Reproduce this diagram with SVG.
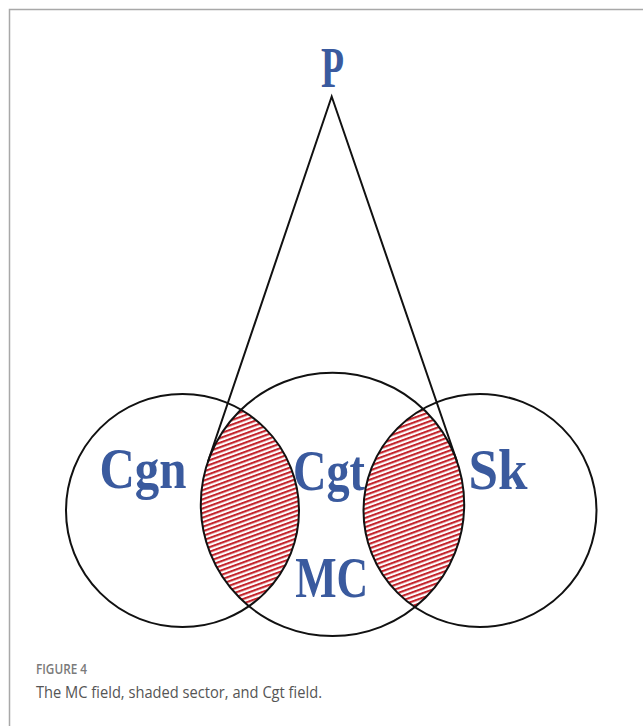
<svg xmlns="http://www.w3.org/2000/svg" width="643" height="726" viewBox="0 0 643 726">
  <style>
    .circ { fill: none; stroke: #111; stroke-width: 2; }
    .lbl { font-family: "Liberation Serif", "Times New Roman", serif; font-weight: bold; font-size: 56px; fill: #3a5a9e; text-anchor: middle; }
    .conn { stroke: #111; stroke-width: 2; fill: none; stroke-linecap: round; }
  </style>
  <defs>
    <pattern id="hatch" patternUnits="userSpaceOnUse" width="8" height="4.3" patternTransform="rotate(-20)">
      <rect width="8" height="4.3" fill="#ffffff"/>
      <rect y="0" width="8" height="2.1" fill="#c4242c"/>
    </pattern>
    <clipPath id="clipLeft"><circle cx="182.5" cy="510.5" r="116.5"/></clipPath>
    <clipPath id="clipRight"><circle cx="480" cy="510.5" r="116.5"/></clipPath>
  </defs>
  <rect width="643" height="726" fill="#ffffff"/>
  <path d="M9.5 726 V9.5 H643" fill="none" stroke="#a8a8a8" stroke-width="1.5"/>

  <g id="shaded">
    <circle cx="332.5" cy="504.4" r="131.7" fill="url(#hatch)" clip-path="url(#clipLeft)"/>
    <circle cx="332.5" cy="504.4" r="131.7" fill="url(#hatch)" clip-path="url(#clipRight)"/>
  </g>

  <g id="connectors">
    <polyline class="conn" points="208,461.5 331.7,96.5 457,461.5"/>
  </g>

  <g id="node-Cgn">
    <circle class="circ" cx="182.5" cy="510.5" r="116.5"/>
    <text class="lbl" x="143" y="488" textLength="87" lengthAdjust="spacingAndGlyphs">Cgn</text>
  </g>
  <g id="node-Cgt">
    <circle class="circ" cx="332.5" cy="504.4" r="131.7"/>
    <text class="lbl" x="329" y="490" textLength="72" lengthAdjust="spacingAndGlyphs">Cgt</text>
  </g>
  <g id="node-Sk">
    <circle class="circ" cx="480" cy="510.5" r="116.5"/>
    <text class="lbl" x="498" y="489" textLength="59" lengthAdjust="spacingAndGlyphs">Sk</text>
  </g>
  <g id="node-MC">
    <text class="lbl" x="331.7" y="596.5" textLength="73" lengthAdjust="spacingAndGlyphs">MC</text>
  </g>
  <g id="node-P">
    <text class="lbl" x="332.5" y="86.5" font-size="57" textLength="23" lengthAdjust="spacingAndGlyphs">P</text>
  </g>

  <g id="caption">
    <text x="36" y="674" font-family="'Open Sans', 'Noto Sans', sans-serif" font-size="13.5" font-weight="600" fill="#7a7a7a" textLength="51" lengthAdjust="spacingAndGlyphs">FIGURE 4</text>
    <text x="36" y="698" font-family="'Open Sans', 'Noto Sans', sans-serif" font-size="17" fill="#555555" textLength="286" lengthAdjust="spacingAndGlyphs">The MC field, shaded sector, and Cgt field.</text>
  </g>
</svg>
